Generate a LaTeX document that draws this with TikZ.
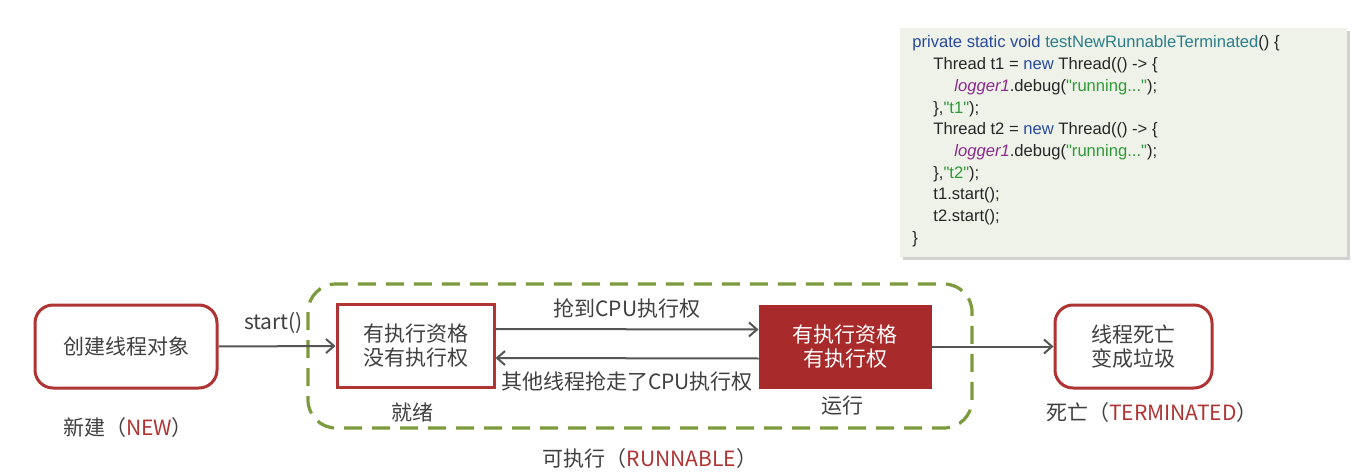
\documentclass[tikz,border=0pt]{standalone}
\usepackage{fontspec}
\setmainfont{Liberation Sans}
\newfontfamily\cjk{Noto Sans CJK SC}
\newfontfamily\codefont{Liberation Sans}
\usetikzlibrary{arrows.meta,shadows}
\definecolor{boxred}{HTML}{B03434}
\definecolor{fillred}{HTML}{A82A2A}
\definecolor{dashgreen}{HTML}{7C9A3E}
\definecolor{txtgray}{HTML}{404040}
\definecolor{arrowgray}{HTML}{555555}
\definecolor{codebg}{HTML}{EEF2E8}
\definecolor{kwblue}{HTML}{2A4A9E}
\definecolor{fnteal}{HTML}{2B7E8A}
\definecolor{purp}{HTML}{8E2A8E}
\definecolor{strgreen}{HTML}{2E9A38}
\begin{document}
\begin{tikzpicture}[x=0.5pt,y=-0.5pt,
  lbl/.style={font=\cjk\fontsize{10.5}{12}\selectfont, text=txtgray, inner sep=0pt, align=center},
  statebox/.style={draw=boxred, line width=1.5pt, minimum width=91pt, minimum height=41.5pt, font=\cjk\fontsize{10.5}{12}\selectfont, text=txtgray, align=center, inner sep=0pt},
  conn/.style={draw=arrowgray, line width=1pt, -{Straight Barb[length=4pt,width=7pt]}},
  codeline/.style={font=\codefont\fontsize{8.3}{9}\selectfont, anchor=base west, inner sep=0pt, text=black!85}
]
\useasboundingbox (0,0) rectangle (1355,476);
\fill[white] (0,0) rectangle (1355,476);

% code box
\node[draw=none, fill=codebg, minimum width=223.5pt, minimum height=114.5pt, inner sep=0pt,
  drop shadow={shadow xshift=1.5pt, shadow yshift=-1.5pt, opacity=0.35}] (code) at (1123.5,142.5) {};
\node[codeline] (c1) at (912,48) {\textcolor{kwblue}{private static void} \textcolor{fnteal}{testNewRunnableTerminated}() \{};
\node[codeline] (c2) at (933,69.7) {Thread t1 = \textcolor{kwblue}{new} Thread(() -> \{};
\node[codeline] (c3) at (954,91.4) {\textcolor{purp}{\itshape logger1}.debug(\textcolor{strgreen}{"running..."});};
\node[codeline] (c4) at (933,113.1) {\},\textcolor{strgreen}{"t1"});};
\node[codeline] (c5) at (933,134.8) {Thread t2 = \textcolor{kwblue}{new} Thread(() -> \{};
\node[codeline] (c6) at (954,156.5) {\textcolor{purp}{\itshape logger1}.debug(\textcolor{strgreen}{"running..."});};
\node[codeline] (c7) at (933,178.2) {\},\textcolor{strgreen}{"t2"});};
\node[codeline] (c8) at (933,199.9) {t1.start();};
\node[codeline] (c9) at (933,221.6) {t2.start();};
\node[codeline] (c10) at (912,243.3) {\}};

% runnable dashed region
\draw[dashgreen, line width=1.6pt, dash pattern=on 9pt off 5pt, rounded corners=14pt] (308,284) rectangle (972,428);

% state boxes
\node[statebox, rounded corners=9pt] (new) at (126,346.5) {创建线程对象};
\node[statebox, minimum width=78.5pt] (ready) at (415.5,346) {有执行资格\\没有执行权};
\node[statebox, draw=fillred, fill=fillred, text=white, minimum width=85pt, minimum height=40.5pt] (run) at (845,346.5) {有执行资格\\有执行权};
\node[statebox, rounded corners=9pt, minimum width=78.5pt] (dead) at (1133.5,346.5) {线程死亡\\变成垃圾};

% connectors
\draw[conn] (new.east) -- (ready.west) node[lbl, pos=0.47, above=6pt] (startlbl) {start()};
\draw[conn] ([yshift=8.5pt]ready.east) -- ([yshift=8.5pt]run.west) node[lbl, midway, above=5pt] (grab) {抢到CPU执行权};
\draw[conn] ([yshift=-6pt]run.west) -- ([yshift=-6pt]ready.east) node[lbl, midway, below=6pt] (lose) {其他线程抢走了CPU执行权};
\draw[conn] (run.east) -- (dead.west);

% captions
\node[lbl] (cap1) at (128,428) {新建（\textcolor{boxred}{NEW}）};
\node[lbl] (cap2) at (412,413) {就绪};
\node[lbl] (cap3) at (842,406) {运行};
\node[lbl] (cap4) at (1152,413) {死亡（\textcolor{boxred}{TERMINATED}）};
\node[lbl] (cap5) at (650,459) {可执行（\textcolor{boxred}{RUNNABLE}）};
\end{tikzpicture}
\end{document}
